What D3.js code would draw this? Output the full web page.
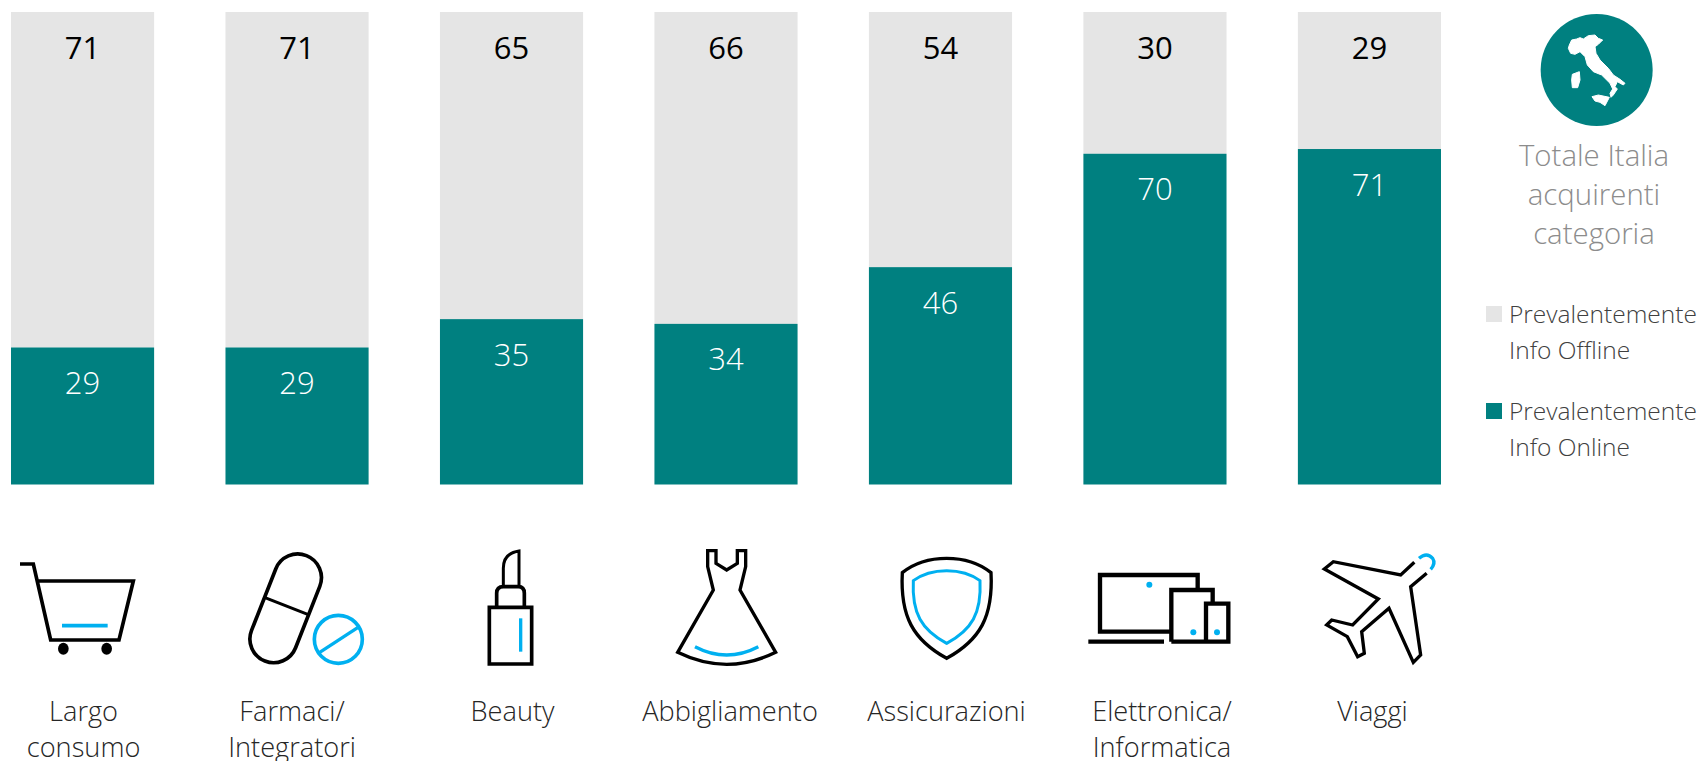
<!DOCTYPE html>
<html><head><meta charset="utf-8">
<script src="https://cdn.jsdelivr.net/npm/d3@7/dist/d3.min.js"></script>
<style>
html,body{margin:0;padding:0;background:#fff}
svg{display:block}
text{font-family:"Open Sans",sans-serif}
</style></head><body>
<svg id="c" width="1700" height="761"></svg>
<script>
const categories=["Largo consumo","Farmaci/ Integratori","Beauty","Abbigliamento","Assicurazioni","Elettronica/ Informatica","Viaggi"];
const online=[29,29,35,34,46,70,71];
const offline=[71,71,65,66,54,30,29];
const legendLabels=[["Prevalentemente","Info Offline"],["Prevalentemente","Info Online"]];
const titleLines=["Totale Italia","acquirenti","categoria"];
const TEAL="#008080",GREY="#e5e5e5",BLUE="#00b0f0";
const svg=d3.select("#c");
const x=d3.scaleBand().domain(categories).range([11,1441]).paddingInner(.3327).paddingOuter(0);
const y=d3.scaleLinear().domain([0,100]).range([484.5,12]);
const rows=categories.map((c,i)=>({c,on:online[i],off:offline[i]}));
// bars
svg.append("g").selectAll("rect").data(rows).join("rect")
 .attr("x",d=>x(d.c)).attr("width",x.bandwidth()).attr("y",d=>y(100)).attr("height",d=>y(d.on)-y(100)).attr("fill",GREY);
svg.append("g").selectAll("rect").data(rows).join("rect")
 .attr("x",d=>x(d.c)).attr("width",x.bandwidth()).attr("y",d=>y(d.on)).attr("height",d=>y(0)-y(d.on)).attr("fill",TEAL);
// value labels
svg.append("g").selectAll("text").data(rows).join("text")
 .attr("x",d=>x(d.c)+x.bandwidth()/2).attr("y",d=>y(100)+47).attr("text-anchor","middle")
 .attr("font-size",31).attr("font-weight",380).attr("fill","#000").text(d=>d.off);
svg.append("g").selectAll("text").data(rows).join("text")
 .attr("x",d=>x(d.c)+x.bandwidth()/2).attr("y",d=>y(d.on)+46.5).attr("text-anchor","middle")
 .attr("font-size",31).attr("font-weight",300).attr("fill","#fff").text(d=>d.on);
// category axis
const labelNudge={"Largo consumo":1,"Farmaci/ Integratori":-5,"Beauty":1,"Abbigliamento":4,"Assicurazioni":6,"Elettronica/ Informatica":7,"Viaggi":3};
const ax=svg.append("g").attr("transform","translate(0,698)").call(d3.axisBottom(x).tickSize(0));
ax.select(".domain").remove();
ax.selectAll("text").each(function(d){
  const t=d3.select(this).text(null).attr("y",23).attr("dy",0)
   .attr("font-size",27.2).attr("font-weight",300).attr("fill","#262626").attr("font-family",'"Open Sans",sans-serif');
  d.split(" ").forEach((p,i)=>t.append("tspan").attr("x",labelNudge[d]).attr("y",23+i*36).text(p));
});
// icons
const icons=[
 {ox:10,oy:550,k:[
  ["p","M30,42H70L122,270H327L370,93H85",11],
  ["b","M156,227H293",11]],dots:[[160,296,16,18],[290,296,16,18]]},
 {ox:230,oy:540,k:[
  ["r",""],["p","M103,172L235,224",9],
  ["b","M268,338L383,263",10]]},
 {ox:470,oy:540,k:[
  ["p","M58,202H185V372H58Z",11],
  ["p","M80,202V160Q80,140 100,140H145Q163,140 163,160V202",11],
  ["p","M100,140V85Q100,40 147,33V140",9],
  ["b","M152,235V335",10]]},
 {ox:560,oy:530,k:[
  ["p","M443,62H468V100L500,120L532,100V62H557V110L540,180L647,367Q500,439 353,367L460,180L443,110Z",10],
  ["b","M405,350Q500,400 595,350",10]]},
 {ox:560,oy:530,k:[
  ["p","M1160,85Q1240,85 1293,128C1300,260 1260,330 1160,385C1060,330 1020,260 1027,128Q1080,85 1160,85Z",10],
  ["b","M1160,122Q1220,122 1260,152C1265,250 1235,300 1160,340C1085,300 1055,250 1060,152Q1100,122 1160,122Z",9]]},
 {ox:1060,oy:530,k:[
  ["p","M334,305H120V135H413V178",13],
  ["p","M85,335H312",13],
  ["p","M334,335V180H458V218",13],
  ["p","M334,335H505V221H438V335",13]],bdots:[[268,164,9],[400,307,9],[471,307,9]]},
 {ox:1060,oy:530,k:[
  ["p","M1063,97L1022,135L820,95L793,117L955,207L878,285L815,270L800,285L862,320L893,380L913,370L905,305L987,235L1060,397L1082,375L1052,170L1100,130",10],
  ["b","M1077,85Q1100,65 1118,85Q1128,100 1112,118",10]]}
];
icons.forEach(ic=>{
 const g=svg.append("g").attr("transform",`translate(${ic.ox},${ic.oy}) scale(${1/3})`).attr("fill","none");
 ic.k.forEach(s=>{
  if(s[0]==="r"){
   g.append("rect").attr("x",167-71).attr("y",205-170).attr("width",142).attr("height",340).attr("rx",71)
    .attr("transform","rotate(21.5 167 205)").attr("stroke","#000").attr("stroke-width",11);
   g.append("circle").attr("cx",325).attr("cy",298).attr("r",72).attr("stroke",BLUE).attr("stroke-width",11);
  } else g.append("path").attr("d",s[1]).attr("stroke",s[0]==="b"?BLUE:"#000").attr("stroke-width",s[2]);
 });
 (ic.dots||[]).forEach(d=>g.append("ellipse").attr("cx",d[0]).attr("cy",d[1]).attr("rx",d[2]).attr("ry",d[3]).attr("fill","#000"));
 (ic.bdots||[]).forEach(d=>g.append("circle").attr("cx",d[0]).attr("cy",d[1]).attr("r",d[2]).attr("fill",BLUE));
});
// Italy badge
const it=svg.append("g").attr("transform",`translate(1530,15) scale(${1/3})`);
it.append("circle").attr("cx",200).attr("cy",165).attr("r",168).attr("fill",TEAL);
["M118,90L125,75L140,72L150,68L160,72L175,62L195,60L205,70L218,75L205,88L195,95L198,115L210,135L235,160L250,180L270,193L285,205L280,210L262,200L255,215L262,222L250,240L243,247L240,235L248,222L240,205L215,180L190,170L172,150L165,125L150,110L135,118L122,115L115,100Z",
 "M127,178L148,170L150,195L143,218L127,218L125,195Z","M186,245L205,240L238,247L225,272L210,262L195,258Z"].forEach(p=>it.append("path").attr("d",p).attr("fill","#fff").attr("stroke","#fff").attr("stroke-width",3));
// side title
svg.append("g").selectAll("text").data(titleLines).join("text")
 .attr("x",1594).attr("y",(d,i)=>166+i*39).attr("text-anchor","middle")
 .attr("font-size",29.4).attr("font-weight",300).attr("fill","#8c8c8c").text(d=>d);
// legend
const lg=svg.append("g").selectAll("g").data(legendLabels).join("g");
lg.append("rect").attr("x",1486).attr("y",(d,i)=>306+i*97).attr("width",16).attr("height",16).attr("fill",(d,i)=>i?TEAL:GREY);
lg.each(function(d,i){
 d3.select(this).selectAll("text").data(d).join("text").attr("x",1509).attr("y",(t,j)=>323+i*97+j*36)
  .attr("font-size",24.5).attr("font-weight",300).attr("fill","#404040").text(t=>t);
});
</script></body></html>
